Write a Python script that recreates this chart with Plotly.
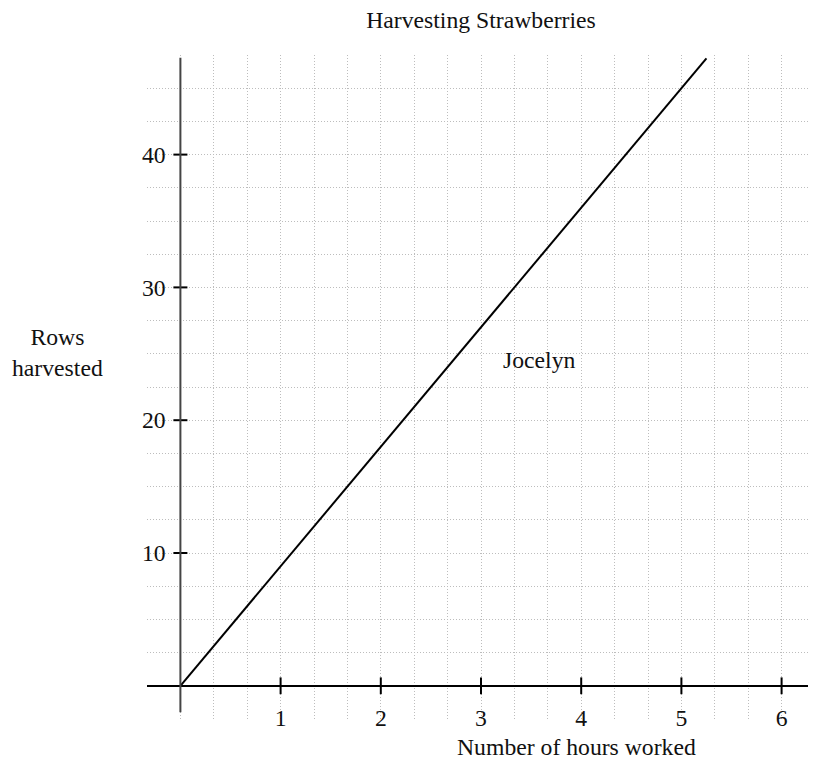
import plotly.graph_objects as go

# Data
hours = [0, 5.25]
rows = [0, 47.25]
x_ticks = [1, 2, 3, 4, 5, 6]
y_ticks = [10, 20, 30, 40]
series_name = "Jocelyn"

FONT = "Liberation Serif"
FS = 23.7
GRID = "#bdbdbd"
DASH = "1px,2px"

fig = go.Figure()

# y-axis line (drawn as shape)
fig.add_shape(type="line", xref="x", yref="y", x0=0, x1=0, y0=-2, y1=47.3,
              line=dict(color="#444", width=2), layer="above")

# main line
fig.add_trace(go.Scatter(x=hours, y=rows, mode="lines",
                         line=dict(color="black", width=2),
                         showlegend=False, hoverinfo="skip"))

# tick marks on the axes
fig.add_trace(go.Scatter(x=x_ticks, y=[0] * len(x_ticks), mode="markers",
                         marker=dict(symbol="line-ns", size=12,
                                     line=dict(color="black", width=2)),
                         showlegend=False, hoverinfo="skip"))
fig.add_trace(go.Scatter(x=[0] * len(y_ticks), y=y_ticks, mode="markers",
                         marker=dict(symbol="line-ew", size=10,
                                     line=dict(color="black", width=2)),
                         showlegend=False, hoverinfo="skip"))

fig.update_layout(
    width=808, height=753,
    margin=dict(l=139, r=1, t=47, b=42),
    paper_bgcolor="white", plot_bgcolor="white",
    font=dict(family=FONT, size=FS, color="black"),
    title=dict(text="Harvesting Strawberries", x=0.5, xref="paper",
               xanchor="center", y=1 - 12 / 753, yanchor="middle",
               font=dict(family=FONT, size=FS, color="#111")),
    xaxis=dict(range=[-1 / 3, 19 / 3], tickmode="array", tickvals=x_ticks,
               ticktext=[str(v) for v in x_ticks],
               showgrid=True, gridcolor=GRID, griddash=DASH, gridwidth=1,
               minor=dict(tickmode="linear", tick0=0, dtick=1 / 3,
                          showgrid=True, gridcolor=GRID, griddash=DASH,
                          gridwidth=1, ticks=""),
               zeroline=False, showline=False, ticks="",
               anchor="free", position=0.026,
               tickfont=dict(family=FONT, size=FS, color="#111")),
    yaxis=dict(range=[-2.5, 47.5], tickmode="array", tickvals=y_ticks,
               ticktext=[str(v) for v in y_ticks],
               showgrid=True, gridcolor=GRID, griddash=DASH, gridwidth=1,
               minor=dict(tickmode="linear", tick0=0, dtick=2.5,
                          showgrid=True, gridcolor=GRID, griddash=DASH,
                          gridwidth=1, ticks=""),
               zeroline=True, zerolinecolor="black", zerolinewidth=2,
               showline=False, ticks="",
               anchor="free", position=0.028,
               tickfont=dict(family=FONT, size=FS, color="#111")),
    annotations=[
        dict(text=series_name, x=3.58, y=24.5, xref="x", yref="y",
             showarrow=False, font=dict(family=FONT, size=FS, color="#111")),
        dict(text="Number of hours worked", x=(698 - 147) / 668, y=-0.042,
             xref="paper", yref="paper", xanchor="right", yanchor="middle",
             showarrow=False, font=dict(family=FONT, size=FS, color="#111")),
        dict(text="Rows<br>harvested", x=-0.1347, y=0.5527,
             xref="paper", yref="paper", xanchor="center", yanchor="middle",
             align="center", showarrow=False,
             font=dict(family=FONT, size=FS, color="#111")),
    ],
)

fig.write_html("out.html")
